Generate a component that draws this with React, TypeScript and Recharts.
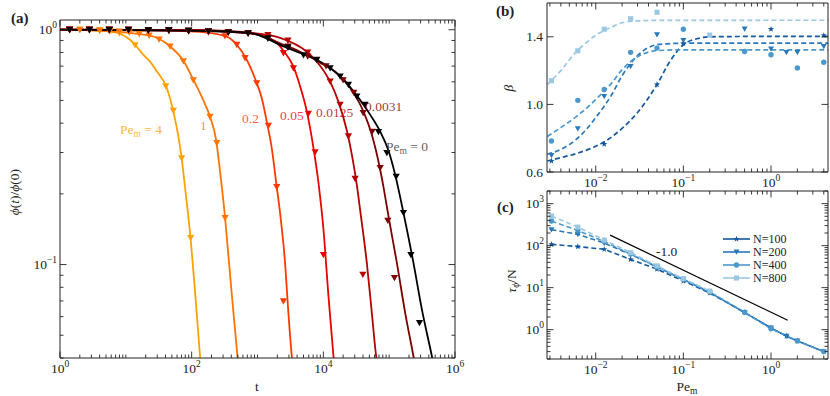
import React from "react";
import { ComposedChart, Line, XAxis, YAxis } from "recharts";

const FONT = "'Liberation Serif', 'DejaVu Serif', serif";
const INK = "#222";

// ---------- panel (a): phi(t)/phi(0) vs t ----------
const A_PE_LABELS = ["4", "1", "0.2", "0.05", "0.0125", "0.0031", "0"];
const A_COLORS = ["#ffa200", "#ff7400", "#ff3a00", "#ea0000", "#b40000", "#7d0000", "#000000"];

const fitPe4 = [[1, 1], [3, 0.995], [5.75, 0.985], [8.2, 0.961], [11.6, 0.906], [13.8, 0.863], [18.4, 0.783], [23.3, 0.731], [29.5, 0.665], [41.9, 0.565], [52.7, 0.449], [70.5, 0.284], [79, 0.215], [96.6, 0.128], [112, 0.078], [134, 0.0407], [140, 0.035]];
const fitPe1 = [[1, 1], [4, 0.99], [23.3, 0.943], [47, 0.849], [74.8, 0.738], [106, 0.613], [151, 0.499], [190, 0.426], [235, 0.34], [270, 0.249], [322, 0.158], [384, 0.0898], [496, 0.0407], [544, 0.0315]];
const fitPe02 = [[1, 1], [23.3, 0.995], [134, 0.98], [341, 0.934], [484, 0.863], [687, 0.745], [973, 0.593], [1159, 0.512], [1381, 0.407], [1645, 0.314], [1960, 0.214], [2202, 0.166], [2622, 0.1017], [2944, 0.0623], [3318, 0.0407], [3500, 0.035]];
const fitPe005 = [[1, 1], [134, 0.995], [544, 0.971], [1096, 0.948], [1963, 0.88], [2477, 0.814], [3515, 0.696], [4437, 0.574], [5610, 0.449], [7075, 0.314], [8434, 0.223], [10050, 0.141], [11970, 0.0733], [14250, 0.0407], [15000, 0.035]];
const fitPe00125 = [[1, 1], [134, 0.995], [772, 0.971], [2203, 0.924], [5610, 0.806], [8929, 0.703], [12680, 0.601], [16950, 0.494], [22740, 0.372], [27100, 0.294], [32240, 0.219], [36200, 0.171], [45760, 0.1017], [54540, 0.0623], [63440, 0.0407], [75600, 0.0315]];
const fitPe00031 = [[1, 1], [134, 0.99], [772, 0.968], [2486, 0.863], [4437, 0.806], [8929, 0.724], [16030, 0.654], [25540, 0.566], [40740, 0.448], [54540, 0.357], [72950, 0.254], [83200, 0.209], [97500, 0.161], [130900, 0.1017], [175000, 0.0623], [233800, 0.0407], [276000, 0.0315]];
const fitPe0 = [[1, 1], [23.3, 0.995], [134, 0.99], [772, 0.968], [2486, 0.849], [4437, 0.796], [7960, 0.745], [12680, 0.687], [20180, 0.613], [32280, 0.524], [51400, 0.435], [72950, 0.369], [97500, 0.306], [123300, 0.2415], [164900, 0.166], [233800, 0.1017], [314000, 0.0644], [445600, 0.0407], [536000, 0.0315]];

const simPe4 = [[1.4, 1], [2, 1], [2.8, 0.995], [4, 0.99], [5.7, 0.985], [8, 0.965], [13.8, 0.86], [40.4, 0.575], [52.6, 0.452], [70.5, 0.284], [96.6, 0.13]];
const simPe1 = [[1.4, 1], [2, 1], [2.8, 1], [4, 0.995], [5.7, 0.99], [8, 0.985], [11.3, 0.975], [16, 0.96], [22.6, 0.945], [32, 0.91], [47, 0.849], [74.8, 0.735], [106, 0.61], [190, 0.426], [241, 0.33], [322, 0.158]];
const simPe02 = [[1.4, 1], [2.8, 1], [5.6, 1], [11, 0.995], [22, 0.995], [45, 0.99], [90, 0.985], [180, 0.975], [320, 0.94], [484, 0.863], [648, 0.758], [973, 0.593], [1466, 0.39], [1960, 0.214], [2477, 0.0698]];
const simPe005 = [[1.4, 1], [2.8, 1], [5.6, 1], [11, 1], [22, 0.995], [45, 0.995], [90, 0.99], [180, 0.985], [360, 0.975], [720, 0.965], [1440, 0.93], [2477, 0.796], [3515, 0.687], [5929, 0.439], [7499, 0.301], [10040, 0.11]];
const simPe00125 = [[1.4, 1], [2.8, 1], [5.6, 1], [11, 1], [22, 0.995], [45, 0.995], [90, 0.99], [180, 0.985], [360, 0.98], [720, 0.97], [1440, 0.95], [2900, 0.9], [5800, 0.8], [12680, 0.603], [17990, 0.48], [24050, 0.352], [30400, 0.232], [39840, 0.0906]];
const simPe00031 = [[1.4, 1], [2.8, 1], [5.6, 1], [11, 1], [22, 0.995], [45, 0.995], [90, 0.99], [180, 0.985], [360, 0.975], [720, 0.965], [1440, 0.92], [2900, 0.85], [5800, 0.77], [11000, 0.7], [20000, 0.61], [29000, 0.54], [40270, 0.443], [55200, 0.368], [72950, 0.258], [95500, 0.154], [120300, 0.0878]];
const simPe0 = [[1.4, 1], [2.8, 1], [5.6, 1], [11, 1], [22, 0.995], [45, 0.995], [90, 0.99], [180, 0.985], [360, 0.975], [720, 0.965], [1440, 0.92], [2900, 0.84], [5000, 0.78], [7960, 0.745], [12680, 0.687], [17990, 0.633], [24050, 0.583], [32280, 0.52], [43150, 0.48], [68770, 0.367], [92260, 0.299], [127700, 0.237], [164900, 0.166], [213800, 0.11], [289000, 0.0565]];

const A_FITS = [fitPe4, fitPe1, fitPe02, fitPe005, fitPe00125, fitPe00031, fitPe0];
const A_SIMS = [simPe4, simPe1, simPe02, simPe005, simPe00125, simPe00031, simPe0];
const A_XDOM = [1, 1e6];
const A_YDOM = [0.04, 1.1];
const A_XMAJ = [1, 100, 1e4, 1e6];
const A_YMAJ = [0.1, 1];

// ---------- panels (b), (c): vs Pe_m, N = 100..800 ----------
const N_LABELS = ["N=100", "N=200", "N=400", "N=800"];
const N_COLORS = ["#14599f", "#2b78b8", "#4b98cc", "#9ac8e3"];
const N_SHAPES = ["star", "tri", "circle", "square"];

const betaN100 = [[0.003125, 0.665], [0.0125, 0.765], [0.05, 1.117], [0.1, 1.36], [1, 1.445], [4, 1.408]];
const betaN200 = [[0.003125, 0.698], [0.00625, 0.856], [0.0125, 1.048], [0.025, 1.225], [0.05, 1.412], [0.1, 1.378], [0.5, 1.447], [1, 1.328], [1.5, 1.308], [2, 1.308], [4, 1.343]];
const betaN400 = [[0.003125, 0.783], [0.00625, 1.024], [0.0125, 1.088], [0.025, 1.308], [0.05, 1.333], [0.1, 1.445], [0.5, 1.313], [1, 1.294], [2, 1.216], [4, 1.249]];
const betaN800 = [[0.003125, 1.14], [0.00625, 1.317], [0.0125, 1.445], [0.025, 1.507], [0.05, 1.545], [0.2, 1.41]];

const betaFitN100 = [[0.0028, 0.665], [0.004, 0.685], [0.006, 0.709], [0.008, 0.731], [0.01, 0.752], [0.015, 0.805], [0.02, 0.858], [0.03, 0.952], [0.05, 1.117], [0.07, 1.253], [0.1, 1.353], [0.15, 1.391], [0.2, 1.4], [0.5, 1.402], [4.5, 1.403]];
const betaFitN200 = [[0.0028, 0.705], [0.004, 0.734], [0.006, 0.793], [0.008, 0.858], [0.01, 0.922], [0.015, 1.052], [0.02, 1.17], [0.03, 1.288], [0.05, 1.353], [0.1, 1.362], [4.5, 1.363]];
const betaFitN400 = [[0.0028, 0.81], [0.004, 0.863], [0.006, 0.928], [0.008, 0.981], [0.01, 1.029], [0.015, 1.123], [0.02, 1.206], [0.03, 1.282], [0.05, 1.318], [0.1, 1.323], [4.5, 1.323]];
const betaFitN800 = [[0.0028, 1.117], [0.004, 1.2], [0.006, 1.312], [0.008, 1.37], [0.01, 1.409], [0.015, 1.456], [0.02, 1.483], [0.03, 1.494], [0.05, 1.497], [4.5, 1.498]];

const tauN100 = [[0.003125, 107], [0.00625, 95], [0.0125, 82], [0.025, 47], [0.05, 27.5], [0.1, 14.4], [0.2, 7.5], [0.5, 2.55], [1, 1.1], [1.5, 0.7], [2, 0.54], [4, 0.3]];
const tauN200 = [[0.003125, 240], [0.00625, 186], [0.0125, 115], [0.025, 62], [0.05, 31], [0.1, 15.5], [0.2, 7.7], [0.5, 2.55], [1, 1.1], [1.5, 0.7], [2, 0.54], [4, 0.3]];
const tauN400 = [[0.003125, 385], [0.00625, 231], [0.0125, 125], [0.025, 63], [0.05, 31.5], [0.1, 15.8], [0.2, 7.9], [0.5, 2.6], [1, 1.05], [2, 0.54], [4, 0.3]];
const tauN800 = [[0.003125, 507], [0.00625, 277], [0.0125, 136], [0.025, 68], [0.05, 33], [0.1, 16.4], [0.2, 8.3]];
const slopeRef = [[0.0146, 178], [1.55, 1.68]];

const B_SIMS = [betaN100, betaN200, betaN400, betaN800];
const B_FITS = [betaFitN100, betaFitN200, betaFitN400, betaFitN800];
const C_SIMS = [tauN100, tauN200, tauN400, tauN800];

const PE_DOM = [0.00278, 4.47];
const PE_MAJ = [0.01, 0.1, 1];
const B_YDOM = [0.6, 1.6];
const B_YTICKS = [0.6, 1.0, 1.4];
const C_YDOM = [0.2, 2000];
const C_YMAJ = [1, 10, 100, 1000];

const pts = (arr: number[][]) => arr.map(([x, y]) => ({ x, y }));

function logTicks(lo: number, hi: number) {
  const out: number[] = [];
  for (let e = Math.floor(Math.log10(lo)); e <= Math.ceil(Math.log10(hi)); e++) {
    for (let m = 1; m < 10; m++) {
      const v = parseFloat((m * Math.pow(10, e)).toPrecision(6));
      if (v >= lo * 0.9999 && v <= hi * 1.0001) out.push(v);
    }
  }
  return out;
}

function Marker({ kind, cx, cy, r, color }: any) {
  if (cx == null || cy == null || isNaN(cx) || isNaN(cy)) return null;
  if (kind === "tri")
    return <polygon points={`${cx - r},${cy - r * 0.8} ${cx + r},${cy - r * 0.8} ${cx},${cy + r * 0.95}`} fill={color} />;
  if (kind === "circle") return <circle cx={cx} cy={cy} r={r * 0.9} fill={color} />;
  if (kind === "square") return <rect x={cx - r * 0.85} y={cy - r * 0.85} width={r * 1.7} height={r * 1.7} fill={color} />;
  const p: string[] = [];
  for (let i = 0; i < 10; i++) {
    const a = -Math.PI / 2 + (i * Math.PI) / 5;
    const rr = i % 2 === 0 ? r * 1.1 : r * 0.45;
    p.push(`${cx + rr * Math.cos(a)},${cy + rr * Math.sin(a)}`);
  }
  return <polygon points={p.join(" ")} fill={color} />;
}

const dotFn = (kind: string, r: number, color: string) => (p: any) => (
  <g key={`d${p.index}`}>
    <Marker kind={kind} cx={p.cx} cy={p.cy} r={r} color={color} />
  </g>
);

function Pow10({ x, y, v, anchor }: any) {
  const e = Math.round(Math.log10(v));
  return (
    <text x={x} y={y} textAnchor={anchor} style={{ fontFamily: FONT }} fontSize={13.5} fill={INK}>
      <tspan>10</tspan>
      <tspan dy={-6} fontSize={9.5}>{e < 0 ? `\u2212${-e}` : `${e}`}</tspan>
    </text>
  );
}

function Tick(props: any) {
  const { x, y, payload, side, majors, label } = props;
  const v = payload.value;
  const major = majors.some((m: number) => Math.abs(m - v) <= Math.abs(m) * 1e-6);
  const L = major ? 6.5 : 3.5;
  const st = { stroke: INK, strokeWidth: 0.9 };
  let ln;
  if (side === "bottom") ln = <line x1={x} x2={x} y1={y} y2={y - L} {...st} />;
  else if (side === "top") ln = <line x1={x} x2={x} y1={y} y2={y + L} {...st} />;
  else if (side === "left") ln = <line x1={x} x2={x + L} y1={y} y2={y} {...st} />;
  else ln = <line x1={x} x2={x - L} y1={y} y2={y} {...st} />;
  let txt = null;
  if (major && label === "pow" && side === "bottom") txt = <Pow10 x={x} y={y + 15} v={v} anchor="middle" />;
  if (major && label === "pow" && side === "left") txt = <Pow10 x={x - 3} y={y + 4.5} v={v} anchor="end" />;
  if (major && label === "dec" && side === "left")
    txt = (
      <text x={x - 4} y={y + 4.5} textAnchor="end" style={{ fontFamily: FONT }} fontSize={13.5} fill={INK}>
        {v.toFixed(1)}
      </text>
    );
  return (
    <g>
      {ln}
      {txt}
    </g>
  );
}

const axisCommon = {
  type: "number" as const,
  allowDataOverflow: true,
  interval: 0 as const,
  tickSize: 0,
  tickMargin: 0,
  tickLine: false,
  axisLine: { stroke: INK, strokeWidth: 1 },
};

function frameAxes(xdom: number[], xticks: number[], xmaj: number[], xlog: boolean, ydom: number[], yticks: number[], ymaj: number[], ylog: boolean, ylabel: string, xh: number, yw: number) {
  return [
    <XAxis key="xb" dataKey="x" {...axisCommon} scale={xlog ? "log" : "linear"} domain={xdom} ticks={xticks} height={xh}
      tick={(p: any) => <Tick {...p} side="bottom" majors={xmaj} label="pow" />} />,
    <XAxis key="xt" xAxisId="top" orientation="top" dataKey="x" {...axisCommon} scale={xlog ? "log" : "linear"} domain={xdom} ticks={xticks} height={1}
      tick={(p: any) => <Tick {...p} side="top" majors={xmaj} />} />,
    <YAxis key="yl" {...axisCommon} scale={ylog ? "log" : "linear"} domain={ydom} ticks={yticks} width={yw}
      tick={(p: any) => <Tick {...p} side="left" majors={ymaj} label={ylabel} />} />,
    <YAxis key="yr" yAxisId="right" orientation="right" {...axisCommon} scale={ylog ? "log" : "linear"} domain={ydom} ticks={yticks} width={1}
      tick={(p: any) => <Tick {...p} side="right" majors={ymaj} />} />,
  ];
}

function PanelA() {
  return (
    <ComposedChart width={470} height={396} margin={{ top: 19, right: 14, bottom: 0, left: 0 }}>
      {frameAxes(A_XDOM, logTicks(1, 1e6), A_XMAJ, true, A_YDOM, logTicks(0.04, 1.1), A_YMAJ, true, "pow", 38, 60)}
      <Line xAxisId="top" yAxisId="right" data={pts(fitPe0)} dataKey="y" stroke="none" dot={false} isAnimationActive={false} />
      {A_FITS.map((f, i) => (
        <Line key={`f${i}`} data={pts(f)} dataKey="y" type="monotone" stroke={A_COLORS[i]} strokeWidth={1.8} dot={false} activeDot={false} isAnimationActive={false} />
      ))}
      {A_SIMS.map((s, i) => (
        <Line key={`s${i}`} data={pts(s)} dataKey="y" stroke="none" dot={dotFn("tri", 3.6, A_COLORS[i])} activeDot={false} isAnimationActive={false} />
      ))}
    </ComposedChart>
  );
}

function PanelB() {
  return (
    <ComposedChart width={340} height={190} margin={{ top: 2, right: 1, bottom: 0, left: 0 }}>
      {frameAxes(PE_DOM, logTicks(PE_DOM[0], PE_DOM[1]), PE_MAJ, true, B_YDOM, B_YTICKS, B_YTICKS, false, "dec", 18, 57)}
      <Line xAxisId="top" yAxisId="right" data={pts(betaFitN100)} dataKey="y" stroke="none" dot={false} isAnimationActive={false} />
      {B_FITS.map((f, i) => (
        <Line key={`bf${i}`} data={pts(f)} dataKey="y" type="monotone" stroke={N_COLORS[i]} strokeWidth={1.7} strokeDasharray="5 3" dot={false} activeDot={false} isAnimationActive={false} />
      ))}
      {B_SIMS.map((s, i) => (
        <Line key={`bs${i}`} data={pts(s)} dataKey="y" stroke="none" dot={dotFn(N_SHAPES[i], 3, N_COLORS[i])} activeDot={false} isAnimationActive={false} />
      ))}
    </ComposedChart>
  );
}

function PanelC() {
  return (
    <ComposedChart width={340} height={211} margin={{ top: 5, right: 1, bottom: 0, left: 0 }}>
      {frameAxes(PE_DOM, logTicks(PE_DOM[0], PE_DOM[1]), PE_MAJ, true, C_YDOM, logTicks(0.2, 2000), C_YMAJ, true, "pow", 37, 57)}
      <Line xAxisId="top" yAxisId="right" data={pts(tauN100)} dataKey="y" stroke="none" dot={false} isAnimationActive={false} />
      {C_SIMS.map((s, i) => (
        <Line key={`cs${i}`} data={pts(s)} dataKey="y" type="linear" stroke={N_COLORS[i]} strokeWidth={1.6} strokeDasharray="5 3"
          dot={dotFn(N_SHAPES[i], 3, N_COLORS[i])} activeDot={false} isAnimationActive={false} />
      ))}
      <Line data={pts(slopeRef)} dataKey="y" type="linear" stroke="#000" strokeWidth={1.2} dot={false} activeDot={false} isAnimationActive={false} />
    </ComposedChart>
  );
}

function Overlay() {
  const lab = { style: { fontFamily: FONT }, fontSize: 13.5 };
  const annot = [
    { x: 120, y: 134, pe: true, t: "4" },
    { x: 200, y: 130, pe: false, t: "1" },
    { x: 242, y: 123, pe: false, t: "0.2" },
    { x: 280, y: 120, pe: false, t: "0.05" },
    { x: 316, y: 117, pe: false, t: "0.0125" },
    { x: 365, y: 111, pe: false, t: "0.0031" },
    { x: 386, y: 151, pe: true, t: "0" },
  ];
  return (
    <svg width={830} height={396} style={{ position: "absolute", left: 0, top: 0, pointerEvents: "none" }}>
      <text x={11} y={23} style={{ fontFamily: FONT }} fontSize={15} fontWeight="bold" fill={INK}>(a)</text>
      <text x={496} y={16} style={{ fontFamily: FONT }} fontSize={15} fontWeight="bold" fill={INK}>(b)</text>
      <text x={497} y={212} style={{ fontFamily: FONT }} fontSize={15} fontWeight="bold" fill={INK}>(c)</text>

      <text transform="rotate(-90 19 192)" x={19} y={192} textAnchor="middle" {...lab} fill={INK}>
        <tspan fontStyle="italic">ϕ</tspan>(<tspan fontStyle="italic">t</tspan>)/<tspan fontStyle="italic">ϕ</tspan>(0)
      </text>
      <text x={257} y={391} textAnchor="middle" {...lab} fill={INK}>t</text>
      <text transform="rotate(-90 513 88)" x={513} y={88} textAnchor="middle" {...lab} fontStyle="italic" fill={INK}>β</text>
      <text transform="rotate(-90 516 281)" x={516} y={281} textAnchor="middle" {...lab} fill={INK}>
        <tspan fontStyle="italic">τ</tspan><tspan fontStyle="italic" fontSize={9.5} dy={3}>ϕ</tspan><tspan dy={-3}>/N</tspan>
      </text>
      <text x={687} y={391} textAnchor="middle" {...lab} fill={INK}>
        Pe<tspan fontSize={9.5} dy={3}>m</tspan>
      </text>

      {annot.map((a, i) => (
        <text key={i} x={a.x} y={a.y} {...lab} fill={A_COLORS[i] === "#000000" ? "#333" : A_COLORS[i]} fillOpacity={0.8}>
          {a.pe ? (
            <>
              Pe<tspan fontSize={9.5} dy={3}>m</tspan><tspan dy={-3}>{` = ${a.t}`}</tspan>
            </>
          ) : (
            a.t
          )}
        </text>
      ))}

      <text x={656} y={256} {...lab} fill={INK}>-1.0</text>

      {N_LABELS.map((n, i) => {
        const cy = 239 + i * 13;
        return (
          <g key={n}>
            <line x1={723} x2={750} y1={cy} y2={cy} stroke={N_COLORS[i]} strokeWidth={1.6} />
            <Marker kind={N_SHAPES[i]} cx={736.5} cy={cy} r={3} color={N_COLORS[i]} />
            <text x={753} y={cy + 4} style={{ fontFamily: FONT }} fontSize={12} fill={INK}>{n}</text>
          </g>
        );
      })}
    </svg>
  );
}

export default function App() {
  return (
    <div style={{ position: "relative", width: 830, height: 396, background: "#fff" }}>
      <style>{`body{margin:0}`}</style>
      <div style={{ position: "absolute", left: 0, top: 0 }}>
        <PanelA />
      </div>
      <div style={{ position: "absolute", left: 490, top: 0 }}>
        <PanelB />
      </div>
      <div style={{ position: "absolute", left: 490, top: 185 }}>
        <PanelC />
      </div>
      <Overlay />
    </div>
  );
}
